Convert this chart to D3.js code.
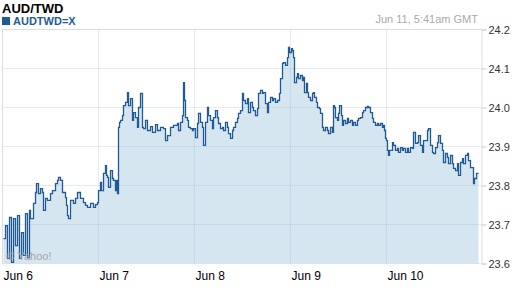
<!DOCTYPE html>
<html>
<head>
<meta charset="utf-8">
<script src="https://cdn.jsdelivr.net/npm/d3@7"></script>
<style>
body { margin: 0; background: #fff; }
svg { display: block; font-family: "Liberation Sans", Arial, sans-serif; }
</style>
</head>
<body>
<div id="chart-area"></div>
<script>
// chart values
var chartTitle = "AUD/TWD";
var symbol = "AUDTWD=X";
var stamp = "Jun 11, 5:41am GMT";
var dayLabels = ["Jun 6", "Jun 7", "Jun 8", "Jun 9", "Jun 10"];
var dayHours = [0, 24, 48, 72, 96];
var yTicks = [23.6, 23.7, 23.8, 23.9, 24.0, 24.1, 24.2];

// [hours since Jun 6 00:00 GMT, price]
var quotes = [
    [0.25,23.664],[0.75,23.697],[1.25,23.613],[1.75,23.718],[2.25,23.603],[2.75,23.715],[3.25,23.646],[3.75,23.723],
    [4.25,23.613],[4.75,23.679],[5.25,23.621],[5.75,23.728],[6.25,23.615],[6.75,23.736],[7,23.715],[7.5,23.715],[7.75,23.754],[8.25,23.782],[8.5,23.805],
    [9,23.779],[9.5,23.792],[10,23.782],[10.25,23.736],[10.75,23.767],[11.25,23.762],[12,23.779],[12.5,23.787],
    [13.25,23.805],[13.75,23.813],[14,23.821],[14.5,23.813],[15,23.782],[15.75,23.769],[16,23.749],[16.25,23.723],
    [16.5,23.715],[17,23.762],[17.75,23.754],[18.25,23.767],[18.75,23.782],[19.5,23.767],[20.25,23.756],[20.75,23.749],
    [21.25,23.744],[22,23.754],[22.75,23.744],[23.25,23.751],[23.75,23.756],[24,23.787],[24.5,23.808],[24.75,23.787],
    [25.25,23.831],[25.75,23.851],[26,23.826],[26.25,23.821],[26.5,23.795],[27,23.838],[27.5,23.818],[27.75,23.813],
    [28.25,23.787],[28.5,23.813],[28.75,23.779],[29,23.949],[29.25,23.962],[29.5,23.967],[30,23.979],[30.25,24.005],
    [30.75,24.013],[31.25,24.038],[31.5,24.005],[32,24.023],[32.5,23.967],[32.75,23.987],[33.25,23.974],[33.75,23.949],
    [34,24.000],[34.5,24.036],[35,23.949],[35.25,23.946],[35.75,23.967],[36.25,23.941],[37,23.951],[37.5,23.936],
    [38.25,23.956],[38.75,23.941],[39.5,23.949],[40.25,23.946],[40.75,23.915],[41.25,23.928],[42,23.949],[42.75,23.954],
    [43.75,23.959],[44,23.941],[44.5,23.962],[45,23.979],[45.25,24.064],[45.5,24.018],[45.75,23.974],[46.25,23.967],
    [46.5,23.949],[47,23.946],[47.5,23.941],[47.75,23.946],[48.25,23.923],[48.75,23.959],[49,23.985],[49.5,23.962],
    [50,23.949],[50.25,23.903],[50.75,23.962],[51.25,24.000],[51.5,23.979],[52,23.967],[52.5,23.946],[52.75,23.974],
    [53.25,23.992],[53.75,23.974],[54,23.959],[54.5,23.946],[55,23.949],[55.25,23.941],[55.75,23.962],[56.25,23.949],
    [56.5,23.933],[57,23.921],[57.5,23.941],[57.75,23.949],[58.25,23.962],[58.75,23.972],[59,23.985],[59.5,23.992],
    [60,24.036],[60.25,24.018],[60.75,24.010],[61.25,24.023],[61.5,23.987],[62,24.013],[62.5,24.000],[62.75,23.992],
    [63.25,23.979],[63.75,23.997],[64,24.036],[64.5,24.044],[65,24.036],[65.25,24.038],[65.75,24.010],[66.25,23.987],
    [66.5,24.013],[67,24.026],[67.5,24.018],[67.75,24.023],[68.25,24.013],[68.75,24.018],[69.25,24.036],[69.5,24.074],
    [70,24.113],[70.25,24.115],[70.75,24.108],[71.25,24.128],[71.5,24.154],[71.75,24.141],[72.25,24.151],[72.5,24.146],
    [72.75,24.128],[73,24.064],[73.5,24.077],[73.75,24.087],[74,24.074],[74.5,24.082],[75,24.069],[75.25,24.077],
    [75.5,24.038],[76,24.062],[76.25,24.038],[76.5,24.026],[77,24.018],[77.5,24.036],[77.75,24.038],[78,24.026],
    [78.5,24.013],[78.75,24.000],[79.25,23.997],[79.5,23.985],[80,23.949],[80.25,23.941],[80.75,23.949],[81.25,23.941],
    [81.5,23.933],[82,23.949],[82.5,23.936],[82.75,24.005],[83,24.000],[83.25,23.974],[83.75,23.967],[84,23.985],
    [84.25,24.005],[84.75,23.979],[85,23.954],[85.25,23.967],[85.75,23.959],[86.25,23.972],[86.5,23.962],[87,23.967],
    [87.5,23.954],[87.75,23.962],[88.25,23.954],[88.75,23.967],[89,23.972],[89.5,23.974],[90,23.987],[90.25,23.992],
    [90.75,24.000],[91.25,24.003],[91.5,24.000],[92,23.987],[92.5,23.972],[92.75,23.962],[93.25,23.954],[93.75,23.959],
    [94,23.954],[94.5,23.959],[95,23.949],[95.25,23.954],[95.5,23.941],[95.75,23.921],[96,23.915],[96.25,23.890],
    [96.5,23.877],[96.75,23.890],[97,23.890],[97.5,23.910],[97.75,23.903],[98.25,23.890],[98.75,23.895],[99,23.885],
    [99.5,23.897],[100,23.890],[100.25,23.895],[100.75,23.885],[101.25,23.895],[101.5,23.885],[102,23.897],[102.5,23.895],
    [102.75,23.936],[103.25,23.908],[103.75,23.910],[104,23.928],[104.5,23.903],[105,23.885],[105.25,23.915],[105.75,23.915],
    [106.25,23.941],[106.5,23.946],[107,23.903],[107.5,23.885],[107.75,23.882],[108.25,23.897],[108.75,23.910],[109,23.928],
    [109.5,23.908],[110,23.890],[110.25,23.859],[110.75,23.882],[111.25,23.872],[111.5,23.856],[112,23.877],[112.5,23.856],
    [112.75,23.844],[113.25,23.838],[113.75,23.856],[114,23.826],[114.5,23.859],[115,23.869],[115.25,23.856],[115.75,23.877],
    [116.25,23.882],[116.5,23.864],[117,23.846],[117.5,23.846],[117.75,23.805],[118,23.818],[118.5,23.831],[119,23.831]
];

var margin = { left: 2.5, right: 30, top: 29.5, bottom: 25 };
var width = 480,
    height = 234;

var svg = d3.select("#chart-area")
    .append("svg")
        .attr("width", 512)
        .attr("height", 288);

// header
svg.append("text")
    .attr("x", 2)
    .attr("y", 13)
    .attr("font-size", "13px")
    .attr("font-weight", "bold")
    .attr("fill", "#000")
    .text(chartTitle);

svg.append("rect")
    .attr("x", 2)
    .attr("y", 17)
    .attr("width", 8)
    .attr("height", 8)
    .attr("fill", "#1f5a94");

svg.append("text")
    .attr("x", 13)
    .attr("y", 25)
    .attr("font-size", "11px")
    .attr("font-weight", "bold")
    .attr("fill", "#1f5a94")
    .text(symbol);

svg.append("text")
    .attr("x", 478)
    .attr("y", 23)
    .attr("font-size", "11px")
    .attr("text-anchor", "end")
    .attr("fill", "#aaaaaa")
    .text(stamp);

var g = svg.append("g")
    .attr("transform", "translate(" + margin.left + ", " + margin.top + ")");

var x = d3.scaleLinear()
    .domain([0, 120])
    .range([0, width]);

var y = d3.scaleLinear()
    .domain([23.6, 24.2])
    .range([height, 0]);

// area + line
var area = d3.area()
    .curve(d3.curveStepAfter)
    .x(function(d){ return x(d[0]); })
    .y0(height)
    .y1(function(d){ return y(d[1]); });

var line = d3.line()
    .curve(d3.curveStepAfter)
    .x(function(d){ return x(d[0]); })
    .y(function(d){ return y(d[1]); });

g.append("path")
    .datum(quotes)
    .attr("d", area)
    .attr("fill", "#d6e6f1");

// grid
g.selectAll(".hgrid")
    .data(yTicks)
    .enter()
    .append("line")
        .attr("class", "hgrid")
        .attr("x1", 0)
        .attr("x2", width - 1)
        .attr("y1", function(d){ return Math.round(y(d)); })
        .attr("y2", function(d){ return Math.round(y(d)); })
        .attr("stroke", "rgba(150,180,210,0.25)");

g.selectAll(".vgrid")
    .data(dayHours)
    .enter()
    .append("line")
        .attr("class", "vgrid")
        .attr("x1", function(d){ return x(d); })
        .attr("x2", function(d){ return x(d); })
        .attr("y1", 0)
        .attr("y2", height)
        .attr("stroke", "rgba(150,180,210,0.25)");

// frame
g.append("line")
    .attr("x1", 0).attr("x2", width - 1)
    .attr("y1", 0).attr("y2", 0)
    .attr("stroke", "#dddddd");
g.append("line")
    .attr("x1", 0).attr("x2", 0)
    .attr("y1", 0).attr("y2", height)
    .attr("stroke", "#dddddd");

g.append("path")
    .datum(quotes)
    .attr("d", line)
    .attr("fill", "none")
    .attr("stroke", "#1f5a94")
    .attr("stroke-width", 1.3);

// right axis
var yAxisCall = d3.axisRight(y)
    .tickValues(yTicks)
    .tickSize(5)
    .tickPadding(2)
    .tickFormat(d3.format(".1f"));
var yAxis = g.append("g")
    .attr("class", "y-axis")
    .attr("transform", "translate(" + (width - 1) + ", 0)")
    .call(yAxisCall);
yAxis.select(".domain").attr("stroke", "#dddddd");
yAxis.selectAll(".tick line").attr("stroke", "#cccccc");
yAxis.selectAll(".tick text")
    .attr("font-size", "11px")
    .attr("font-family", "Liberation Sans, Arial, sans-serif")
    .attr("fill", "#333333");

// day labels
g.selectAll(".day-label")
    .data(dayLabels)
    .enter()
    .append("text")
        .attr("class", "day-label")
        .attr("x", function(d, i){ return x(dayHours[i]) + 1; })
        .attr("y", height + 16)
        .attr("font-size", "12px")
        .attr("fill", "#000")
        .text(function(d){ return d; });

// watermark, drawn over the line
g.append("text")
    .attr("x", 4)
    .attr("y", height - 4)
    .attr("font-size", "11px")
    .attr("fill", "#a5a5a5")
    .text("\u00a9 Yahoo!");
</script>
</body>
</html>
